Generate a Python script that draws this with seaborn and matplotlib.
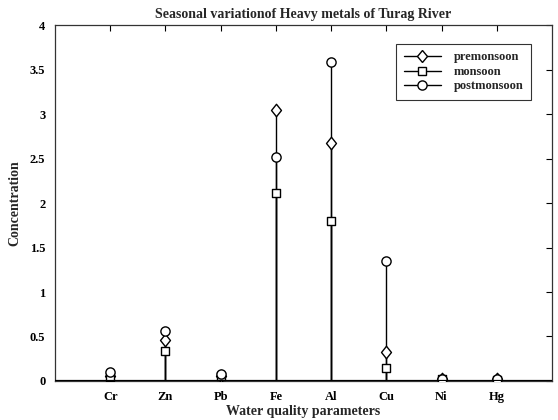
import matplotlib
matplotlib.use("Agg")
import matplotlib.pyplot as plt
import seaborn as sns
import pandas as pd
import numpy as np
from matplotlib.lines import Line2D
from matplotlib.legend_handler import HandlerLine2D
from matplotlib.markers import MarkerStyle
from matplotlib.transforms import Affine2D

params = ["Cr", "Zn", "Pb", "Fe", "Al", "Cu", "Ni", "Hg"]
premonsoon = [0.05, 0.46, 0.06, 3.05, 2.67, 0.33, 0.02, 0.02]
monsoon = [0.04, 0.34, 0.05, 2.11, 1.80, 0.15, 0.02, 0.01]
postmonsoon = [0.10, 0.56, 0.08, 2.52, 3.59, 1.35, 0.02, 0.02]
series_names = ["premonsoon", "monsoon", "postmonsoon"]
yticks = [0, 0.5, 1, 1.5, 2, 2.5, 3, 3.5, 4]
ytick_labels = ["0", "0.5", "1", "1.5", "2", "2.5", "3", "3.5", "4"]

sns.set_style("white")
plt.rcParams["font.family"] = ["Liberation Serif", "DejaVu Serif"]
plt.rcParams["font.weight"] = "bold"

fig = plt.figure(figsize=(5.58, 4.2), dpi=100)
ax = fig.add_axes([0.0986, 0.093, 0.8906, 0.847])

pos = np.arange(1, len(params) + 1)
series = [premonsoon, monsoon, postmonsoon]
diamond = MarkerStyle("D", transform=Affine2D().scale(0.8, 1.0))
markers = [diamond, "s", "o"]
msizes = [40, 26, 44]

for name, vals in zip(series_names, series):
    df = pd.DataFrame({"x": pos, "y": vals})
    ax.vlines(df["x"], 0, df["y"], color="black", linewidth=1.0, zorder=2)
for name, vals, mk, ms in zip(series_names, series, markers, msizes):
    df = pd.DataFrame({"x": pos, "y": vals})
    sns.scatterplot(data=df, x="x", y="y", marker=mk, s=ms, color="white",
                    edgecolor="black", linewidth=1.0, ax=ax, zorder=3, legend=False)

ax.axhline(0, color="black", linewidth=1.6, zorder=4)
ax.set_xlim(0, 9)
ax.set_ylim(0, 4)
ax.set_xticks(pos)
ax.set_xticklabels(params, fontsize=9, fontweight="bold")
ax.set_yticks(yticks)
ax.set_yticklabels(ytick_labels, fontsize=9, fontweight="bold")
ax.tick_params(direction="in", length=4, width=0.8, top=True, right=True,
               colors="black", pad=7)
for s in ax.spines.values():
    s.set_color("#333333")
    s.set_linewidth(0.9)

ax.set_xlabel("Water quality parameters", fontsize=10, fontweight="bold", labelpad=2)
ax.set_ylabel("Concentration", fontsize=10, fontweight="bold", labelpad=6)
ax.set_title("Seasonal variationof Heavy metals of Turag River", fontsize=10,
             fontweight="bold", pad=5)


class StemHandler(HandlerLine2D):
    def get_xdata(self, legend, xdescent, ydescent, width, height, fontsize):
        return [-xdescent, -xdescent + width], [-xdescent + width]


handles = [Line2D([], [], color="black", linewidth=1.0, marker=m,
                  markersize=sz, markerfacecolor="white", markeredgecolor="black")
           for m, sz in zip(markers, [6.3, 5.1, 6.6])]
leg = ax.legend(handles, series_names, loc="upper right", fontsize=9,
                handler_map={Line2D: StemHandler()}, handlelength=3.0,
                frameon=True, fancybox=False, edgecolor="black",
                borderpad=0.6, labelspacing=0.2, handletextpad=1.0,
                bbox_to_anchor=(0.97, 0.965))
leg.get_frame().set_linewidth(0.8)
for t in leg.get_texts():
    t.set_fontweight("bold")

fig.savefig("out.png", dpi=100)
